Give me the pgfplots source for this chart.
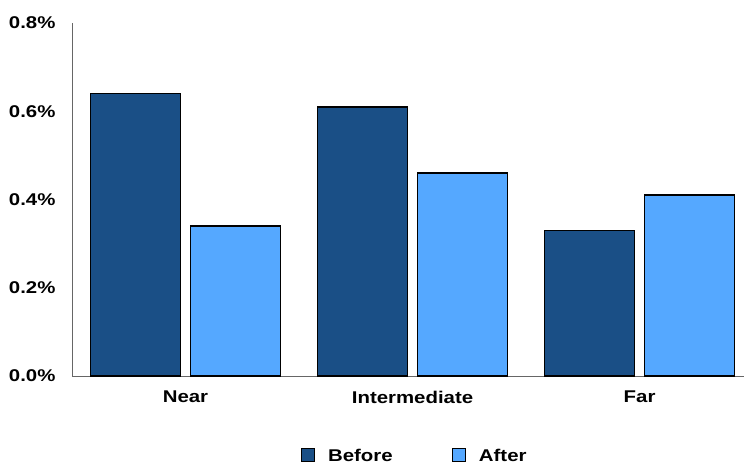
\documentclass[border=0pt]{standalone}
\usepackage{pgfplots}
\pgfplotsset{compat=1.18}
\usepackage{fontspec}
\setmainfont{Liberation Sans}[FakeStretch=1.2]
\definecolor{before}{RGB}{26,79,134}
\definecolor{after}{RGB}{85,168,255}
\begin{document}
\begin{tikzpicture}
\begin{axis}[
  scale only axis,
  width=672bp, height=353bp,
  xmin=-0.5, xmax=2.46,
  ymin=0, ymax=0.8,
  axis x line*=bottom, axis y line*=left,
  axis line style={gray!80!black, line width=0.8pt},
  xtick={0,1,2}, xticklabels={Near,Intermediate,Far},
  ytick={0,0.2,0.4,0.6,0.8},
  yticklabel={\pgfmathprintnumber[fixed,fixed zerofill,precision=1]{\tick}\%},
  /pgf/number format/assume math mode=true,
  tick style={draw=none},
  ticklabel style={font=\fontsize{17bp}{20bp}\selectfont\bfseries},
  xticklabel style={yshift=-7bp},
  yticklabel style={xshift=-13bp},
  ybar, bar width=90bp,
  legend style={draw=none, at={(0.510,-0.195)}, anchor=north, legend columns=2,
    font=\fontsize{17bp}{20bp}\selectfont\bfseries,
    /tikz/every even column/.append style={column sep=57bp}},
  legend image code/.code={\draw[#1, draw=black, line width=1pt] (0bp,-6bp) rectangle (13bp,7bp); \path (24bp,0bp);},
]
\addplot[fill=before, draw=black, line width=1.5pt, bar shift=-50bp] coordinates {(0,0.64) (1,0.61) (2,0.33)};
\addplot[fill=after, draw=black, line width=1.5pt, bar shift=50bp] coordinates {(0,0.34) (1,0.46) (2,0.41)};
\legend{Before, After}
\end{axis}
\pgfresetboundingbox
\path[use as bounding box] (current axis.south west) ++(-72bp,-89bp) rectangle ++(744bp,465bp);
\end{tikzpicture}
\end{document}
